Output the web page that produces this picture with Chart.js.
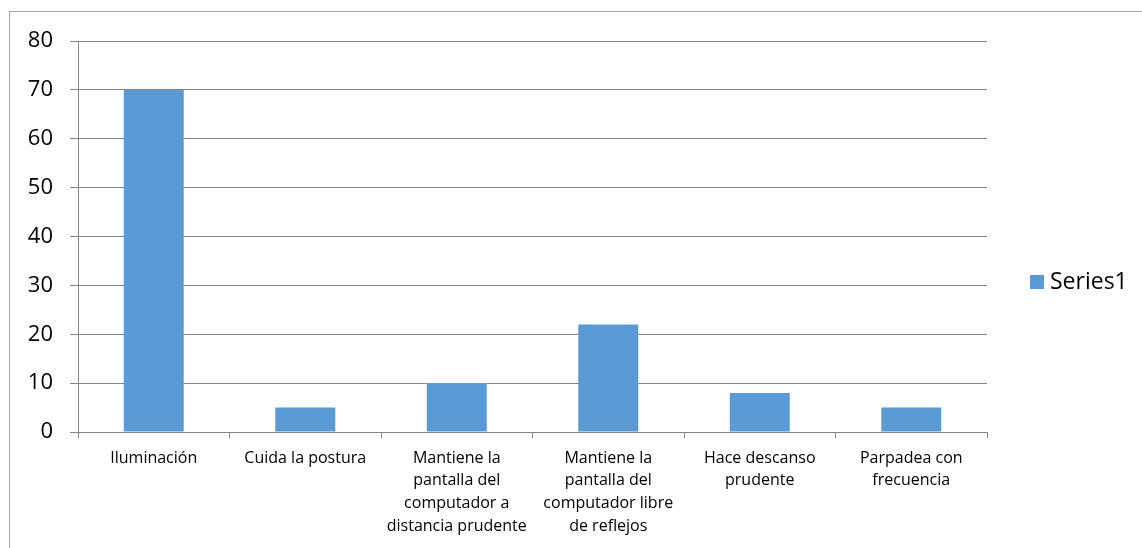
<!DOCTYPE html>
<html>
<head>
<meta charset="utf-8">
<script src="https://cdn.jsdelivr.net/npm/chart.js@4/dist/chart.umd.min.js"></script>
<style>
  html, body { margin: 0; padding: 0; background: #fff; overflow: hidden; }
  #wrap { position: relative; width: 1142px; height: 548px; }
  #frame { position: absolute; left: 9px; top: 11px; width: 1200px; height: 600px; border: 1px solid #a6a6a6; box-sizing: border-box; }
  canvas { position: absolute; left: 0; top: 0; }
</style>
</head>
<body>
<div id="wrap">
  <div id="frame"></div>
  <canvas id="c" width="1142" height="548"></canvas>
</div>
<script>
// Categories (multi-line labels) and values
const categories = [
  ["Iluminación"],
  ["Cuida la postura"],
  ["Mantiene la", "pantalla del", "computador a", "distancia prudente"],
  ["Mantiene la", "pantalla del", "computador libre", "de reflejos"],
  ["Hace descanso", "prudente"],
  ["Parpadea con", "frecuencia"]
];
const series1 = [70, 5, 10, 22, 8, 5];
const seriesName = "Series1";
const yTicks = [0, 10, 20, 30, 40, 50, 60, 70, 80];

const barColor = "#5b9bd5";
const gridColor = "#868686";
const fontFamily = "'Open Sans', Lato, sans-serif";

// Legend drawn at the right of the plot area
const sideLegend = {
  id: "sideLegend",
  afterDraw(chart) {
    const ctx = chart.ctx;
    const ds = chart.data.datasets[0];
    const x = chart.chartArea.right + 43;
    const y = 275;
    ctx.save();
    ctx.fillStyle = ds.backgroundColor;
    ctx.fillRect(x, y, 14, 14);
    ctx.fillStyle = "#000";
    ctx.font = "23px " + fontFamily;
    ctx.textBaseline = "middle";
    ctx.textAlign = "left";
    ctx.fillText(ds.label, x + 20, y + 7);
    ctx.restore();
  }
};

new Chart(document.getElementById("c"), {
  type: "bar",
  data: {
    labels: categories,
    datasets: [{
      label: seriesName,
      data: series1,
      backgroundColor: barColor,
      borderWidth: 0,
      categoryPercentage: 1.0,
      barPercentage: 0.396
    }]
  },
  options: {
    responsive: false,
    animation: false,
    layout: { padding: { top: 41, right: 155, bottom: 0, left: 0 } },
    plugins: {
      legend: { display: false },
      tooltip: { enabled: false }
    },
    scales: {
      x: {
        grid: {
          offset: true,
          drawOnChartArea: false,
          drawTicks: true,
          tickLength: 6,
          color: gridColor
        },
        border: { color: gridColor, width: 1 },
        ticks: {
          color: "#000",
          font: { family: fontFamily, size: 16, lineHeight: 1.41 },
          padding: 9,
          maxRotation: 0,
          autoSkip: false
        },
        afterFit(scale) { scale.height = 116; }
      },
      y: {
        min: 0,
        max: 80,
        afterBuildTicks(scale) { scale.ticks = yTicks.map(v => ({ value: v })); },
        grid: {
          color: gridColor,
          drawTicks: true,
          tickLength: 8
        },
        border: { color: gridColor, width: 1 },
        ticks: {
          color: "#000",
          font: { family: fontFamily, size: 22 },
          padding: 17
        },
        afterFit(scale) { scale.width = 78; }
      }
    }
  },
  plugins: [sideLegend]
});
</script>
</body>
</html>
